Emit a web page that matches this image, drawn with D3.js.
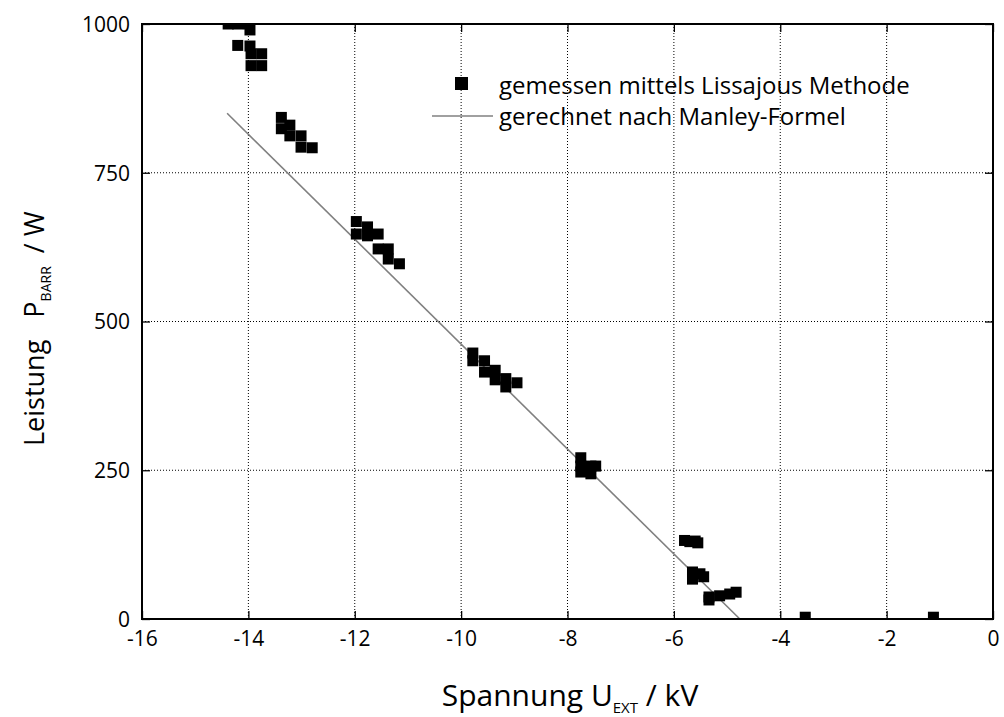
<!DOCTYPE html>
<html><head><meta charset="utf-8">
<script src="https://cdn.jsdelivr.net/npm/d3@7"></script>
<style>body{margin:0;background:#fff}svg{display:block}text{font-family:"Open Sans",sans-serif;fill:#000}</style>
</head><body><svg id="c" width="1004" height="717"></svg>
<script>
const measuredX = [-14.38,-14.2,-14.0,-14.2,-13.97,-13.97,-13.95,-13.75,-13.75,-13.95,
 -13.38,-13.38,-13.22,-13.22,-13.01,-13.01,-12.8,
 -11.97,-11.97,-11.76,-11.76,-11.56,-11.56,-11.37,-11.37,-11.16,
 -9.78,-9.78,-9.56,-9.56,-9.36,-9.36,-9.16,-9.16,-8.95,
 -7.75,-7.75,-7.75,-7.56,-7.47,-7.56,
 -5.8,-5.7,-5.6,-5.55,-5.65,-5.44,-5.65,-5.51,
 -5.34,-5.14,-4.95,-4.83,-5.34,
 -3.53,-1.12];
const measuredY = [1000,1000,1000,964,990,963,950,950,930,930,
 843,824,830,812,812,793,792,
 668,647,659,644,647,622,622,605,597,
 447,434,434,415,418,402,404,390,397,
 271,257,247,257,257,244,
 132,130,131,128,79,71,67,76,
 37,39,42,45,32,
 3,3];
const manleyX = [-14.4,-4.76];
const manleyY = [850,0];
const xTicks = [-16,-14,-12,-10,-8,-6,-4,-2,0];
const yTicks = [0,250,500,750,1000];
const legendLabels = ["gemessen mittels Lissajous Methode","gerechnet nach Manley-Formel"];

const svg = d3.select("#c");
const L=142,R=993,T=24,B=619;
const x = d3.scaleLinear().domain([-16,0]).range([L,R]);
const y = d3.scaleLinear().domain([0,1000]).range([B,T]);

// grid
const g = svg.append("g");
g.selectAll("line.gx").data(xTicks.slice(1,-1)).join("line")
 .attr("x1",d=>x(d)).attr("x2",d=>x(d)).attr("y1",T).attr("y2",B)
 .attr("stroke","#000").attr("stroke-width",1).attr("stroke-dasharray","1,2");
g.selectAll("line.gy").data(yTicks.slice(1,-1)).join("line")
 .attr("y1",d=>y(d)).attr("y2",d=>y(d)).attr("x1",L).attr("x2",R)
 .attr("stroke","#000").attr("stroke-width",1).attr("stroke-dasharray","1,2");

// axes
const fmt = d=>String(d);
const ax = svg.append("g").attr("transform",`translate(0,${B})`)
 .call(d3.axisBottom(x).tickValues(xTicks).tickSize(-8).tickPadding(12).tickFormat(fmt));
const ax2 = svg.append("g").attr("transform",`translate(0,${T})`)
 .call(d3.axisTop(x).tickValues(xTicks).tickSize(-8).tickFormat(""));
const ay = svg.append("g").attr("transform",`translate(${L},0)`)
 .call(d3.axisLeft(y).tickValues(yTicks).tickSize(-8).tickPadding(12).tickFormat(fmt));
const ay2 = svg.append("g").attr("transform",`translate(${R},0)`)
 .call(d3.axisRight(y).tickValues(yTicks).tickSize(-8).tickFormat(""));
[ax,ax2,ay,ay2].forEach(a=>{a.select(".domain").remove();a.selectAll("line").attr("stroke","#000").attr("stroke-width",1.3);
 a.selectAll("text").attr("font-size",21).attr("font-family","Open Sans").attr("fill","#000");});
ax.selectAll("text").attr("dy","0.71em");
ay.selectAll("text").attr("dy","0.35em");

// clip
svg.append("clipPath").attr("id","clip").append("rect").attr("x",L).attr("y",T).attr("width",R-L).attr("height",B-T);

// line
const pts = manleyX.map((d,i)=>[d,manleyY[i]]);
svg.append("path").attr("d",d3.line().x(d=>x(d[0])).y(d=>y(d[1]))(pts))
 .attr("stroke","#808080").attr("stroke-width",1.6).attr("fill","none");

// points
const s=11;
svg.append("g").attr("clip-path","url(#clip)").selectAll("rect").data(measuredX.map((d,i)=>[d,measuredY[i]])).join("rect")
 .attr("x",d=>x(d[0])-s/2).attr("y",d=>y(d[1])-s/2).attr("width",s).attr("height",s).attr("fill","#000");

// frame
svg.append("rect").attr("x",L).attr("y",T).attr("width",R-L).attr("height",B-T).attr("fill","none").attr("stroke","#000").attr("stroke-width",2);

// legend
svg.append("rect").attr("x",455).attr("y",77).attr("width",13).attr("height",13).attr("fill","#000");
svg.append("text").attr("x",499).attr("y",94).attr("font-size",24).text(legendLabels[0]);
svg.append("line").attr("x1",432).attr("x2",493).attr("y1",116).attr("y2",116).attr("stroke","#808080").attr("stroke-width",1.6);
svg.append("text").attr("x",499).attr("y",125).attr("font-size",24).text(legendLabels[1]);

// axis titles
const xt = svg.append("text").attr("x",570).attr("y",706).attr("text-anchor","middle").attr("font-size",30);
xt.append("tspan").text("Spannung U");
xt.append("tspan").attr("font-size",15).attr("dy",7).text("EXT");
xt.append("tspan").attr("dy",-7).text(" / kV");
const yt = svg.append("text").attr("transform","translate(44,446) rotate(-90)").attr("text-anchor","start").attr("font-size",27);
yt.append("tspan").text("Leistung");
yt.append("tspan").attr("dx",22).text("P");
yt.append("tspan").attr("font-size",14).attr("dy",7).text("BARR");
yt.append("tspan").attr("dy",-7).attr("dx",6).text("  / W");
</script></body></html>
